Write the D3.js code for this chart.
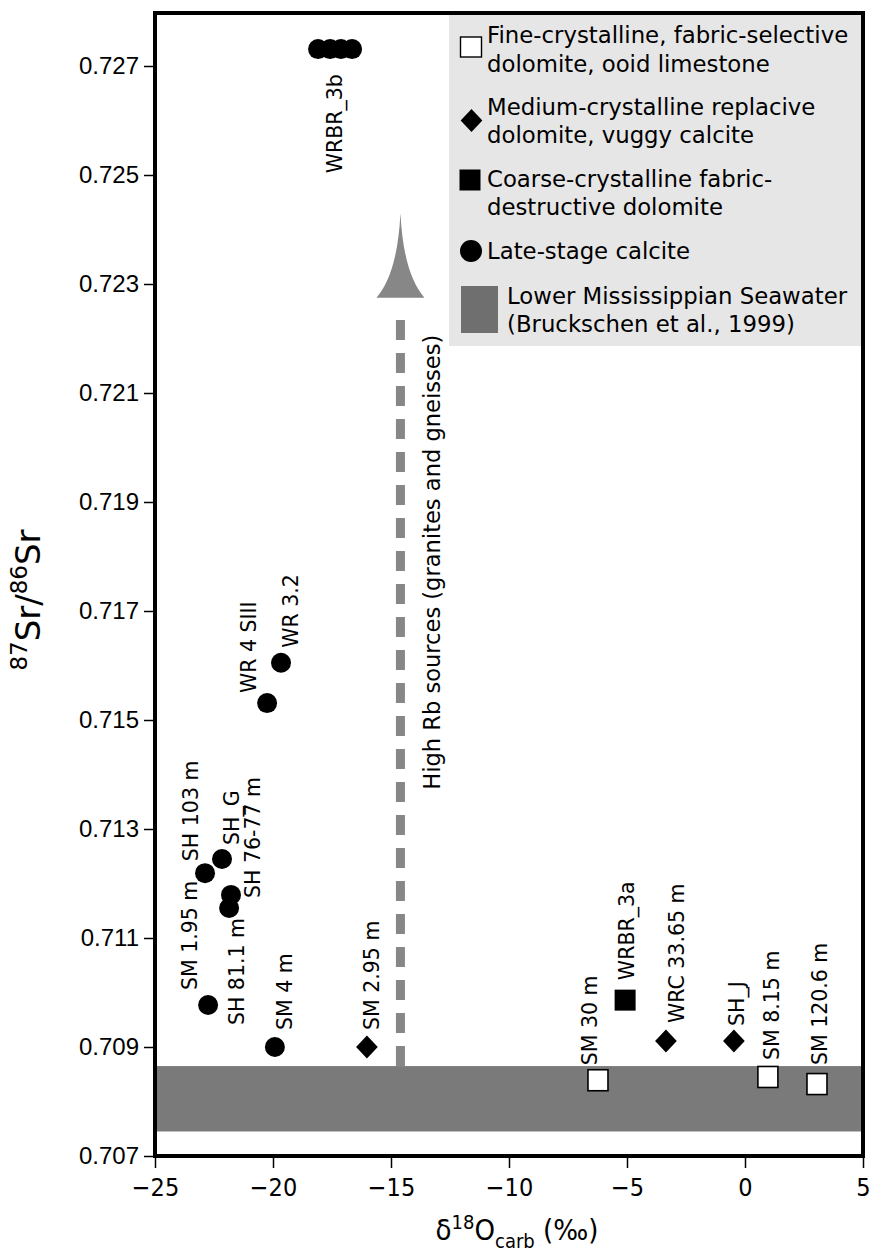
<!DOCTYPE html>
<html><head><meta charset="utf-8">
<script src="https://cdn.jsdelivr.net/npm/d3@7/dist/d3.min.js"></script>
<style>body{margin:0;background:#fff}svg{display:block}</style>
</head><body>
<script>
// ---------- data ----------
const xTicks = [-25, -20, -15, -10, -5, 0, 5];
const yTicks = [0.707, 0.709, 0.711, 0.713, 0.715, 0.717, 0.719, 0.721, 0.723, 0.725, 0.727];

const fineNames = ["SM 30 m", "SM 8.15 m", "SM 120.6 m"];
const fineD18O  = [-6.23, 0.97, 3.05];
const fineSr    = [0.70839, 0.70845, 0.70832];

const mediumNames = ["SM 2.95 m", "WRC 33.65 m", "SH_J"];
const mediumD18O  = [-16.02, -3.35, -0.47];
const mediumSr    = [0.70900, 0.70911, 0.70911];

const coarseNames = ["WRBR_3a"];
const coarseD18O  = [-5.08];
const coarseSr    = [0.70986];

const lateNames = ["WRBR_3b", "WRBR_3b", "WRBR_3b", "WRBR_3b", "WR 3.2", "WR 4 SIII", "SH_G", "SH 103 m", "SH 76-77 m", "SH 81.1 m", "SM 1.95 m", "SM 4 m"];
const lateD18O  = [-18.09, -17.58, -17.12, -16.65, -19.66, -20.25, -22.16, -22.88, -21.78, -21.86, -22.75, -19.92];
const lateSr    = [0.72731, 0.72731, 0.72731, 0.72731, 0.71605, 0.71531, 0.71245, 0.71219, 0.71179, 0.71155, 0.70977, 0.70900];

const seawaterBand = [0.70745, 0.70865];   // Lower Mississippian seawater range
const arrowD18O = -14.6;
const arrowTipSr = 0.7243, arrowBaseSr = 0.72275, arrowTextStartSr = 0.71372;

const legendLabels = [
  ["Fine-crystalline, fabric-selective", "dolomite, ooid limestone"],
  ["Medium-crystalline replacive", "dolomite, vuggy calcite"],
  ["Coarse-crystalline fabric-", "destructive dolomite"],
  ["Late-stage calcite"],
  ["Lower Mississippian Seawater", "(Bruckschen et al., 1999)"]
];
const arrowText = "High Rb sources (granites and gneisses)";

// ---------- layout ----------
const W = 877, H = 1254;
const svg = d3.select("body").append("svg").attr("width", W).attr("height", H);
const x = d3.scaleLinear().domain([-25, 5]).range([155, 863]);
const y = d3.scaleLinear().domain([0.707, 0.728]).range([1156, 11.5]);

const labelFont = "'DejaVu Sans', Verdana, sans-serif";
const legendFont = "'DejaVu Sans', Verdana, sans-serif";
const condFont = "'DejaVu Sans Condensed', 'Liberation Sans Narrow', sans-serif";

// seawater band
svg.append("rect")
  .attr("x", x(-25)).attr("width", x(5) - x(-25))
  .attr("y", y(seawaterBand[1])).attr("height", y(seawaterBand[0]) - y(seawaterBand[1]))
  .attr("fill", "#7a7a7a");

// legend background
svg.append("rect").attr("x", 449).attr("y", 13).attr("width", 863 - 449).attr("height", 346 - 13)
  .attr("fill", "#e6e6e6");

// arrow (dashed shaft + concave head)
const arrowColor = "#878787";
svg.append("line")
  .attr("x1", x(arrowD18O)).attr("x2", x(arrowD18O))
  .attr("y1", y(seawaterBand[1])).attr("y2", y(arrowBaseSr) + 16)
  .attr("stroke", arrowColor).attr("stroke-width", 9)
  .attr("stroke-dasharray", "20,13");
{
  const ax = x(arrowD18O), ty = y(arrowTipSr), by = y(arrowBaseSr), hw = 24;
  svg.append("path")
    .attr("d", `M${ax},${ty} Q${ax - 3},${by - 24} ${ax - hw},${by} L${ax + hw},${by} Q${ax + 3},${by - 24} ${ax},${ty} Z`)
    .attr("fill", arrowColor);
}
svg.append("text")
  .attr("transform", `translate(${x(arrowD18O) + 31},${y(arrowTextStartSr)}) rotate(-90)`)
  .attr("dy", "0.35em")
  .attr("font-family", condFont)
  .attr("font-size", 23)
  .attr("textLength", 455).attr("lengthAdjust", "spacingAndGlyphs")
  .text(arrowText);

// ---------- markers ----------
const zip = (n, a, b) => n.map((d, i) => ({ name: d, xv: a[i], yv: b[i] }));
const fine = zip(fineNames, fineD18O, fineSr);
const medium = zip(mediumNames, mediumD18O, mediumSr);
const coarse = zip(coarseNames, coarseD18O, coarseSr);
const late = zip(lateNames, lateD18O, lateSr);

svg.append("g").selectAll("circle").data(late).join("circle")
  .attr("cx", d => x(d.xv)).attr("cy", d => y(d.yv)).attr("r", 10).attr("fill", "#000");

const dSym = d3.symbol().type(d3.symbolDiamond2).size(300);
svg.append("g").selectAll("path").data(medium).join("path")
  .attr("transform", d => `translate(${x(d.xv)},${y(d.yv)}) scale(1,1.05)`)
  .attr("d", dSym).attr("fill", "#000");

svg.append("g").selectAll("rect").data(coarse).join("rect")
  .attr("x", d => x(d.xv) - 10.5).attr("y", d => y(d.yv) - 10.5)
  .attr("width", 21).attr("height", 21).attr("fill", "#000");

svg.append("g").selectAll("rect").data(fine).join("rect")
  .attr("x", d => x(d.xv) - 10).attr("y", d => y(d.yv) - 10.5)
  .attr("width", 20).attr("height", 21).attr("fill", "#fff")
  .attr("stroke", "#000").attr("stroke-width", 1.6);

// ---------- sample labels (rotated) ----------
// placement: [dx of text centre, dy of anchor point, anchor] relative to the marker
const placement = {
  "WRBR_3b": [0, 25, "end"],
  "WR 3.2": [10, -15, "start"],
  "WR 4 SIII": [-18, -10, "start"],
  "SH 103 m": [-14, -12, "start"],
  "SH_G": [10, -14, "start"],
  "SH 76-77 m": [22, 3, "start"],
  "SH 81.1 m": [8, 10, "end"],
  "SM 1.95 m": [-18, -15, "start"],
  "SM 4 m": [10, -17, "start"],
  "SM 2.95 m": [5, -17, "start"],
  "SM 30 m": [-8, -15, "start"],
  "WRBR_3a": [2, -20, "start"],
  "WRC 33.65 m": [11, -18, "start"],
  "SH_J": [3, -15, "start"],
  "SM 8.15 m": [4, -17, "start"],
  "SM 120.6 m": [3, -19, "start"]
};
const all = [...late, ...medium, ...coarse, ...fine];
const labelled = d3.groups(all, d => d.name).map(([name, pts]) => ({
  name, px: d3.mean(pts, p => x(p.xv)), py: d3.mean(pts, p => y(p.yv))
}));
svg.append("g").selectAll("text").data(labelled).join("text")
  .attr("transform", d => {
    const p = placement[d.name];
    return `translate(${d.px + p[0]},${d.py + p[1]}) rotate(-90)`;
  })
  .attr("dy", "0.35em")
  .attr("text-anchor", d => placement[d.name][2])
  .attr("font-family", labelFont).attr("font-size", 20.5)
  .text(d => d.name);

// ---------- legend ----------
const lg = svg.append("g");
lg.append("rect").attr("x", 460.5).attr("y", 37).attr("width", 21).attr("height", 20)
  .attr("fill", "#fff").attr("stroke", "#000").attr("stroke-width", 1.4);
lg.append("path").attr("transform", "translate(471.5,120.5) scale(1,1.05)").attr("d", dSym).attr("fill", "#000");
lg.append("rect").attr("x", 459.5).attr("y", 169.5).attr("width", 21).attr("height", 21).attr("fill", "#000");
lg.append("circle").attr("cx", 471).attr("cy", 251).attr("r", 11).attr("fill", "#000");
lg.append("rect").attr("x", 461).attr("y", 286).attr("width", 37).attr("height", 47).attr("fill", "#6f6f6f");

// each legend entry is one text element; wrapped lines are tspans
const legendPos = [[487, 43, 29], [487, 115, 28], [487, 187, 27.5], [487, 259, 0], [507, 304, 27.5]];
legendLabels.forEach((lines, i) => {
  const [lx, ly, lh] = legendPos[i];
  const t = lg.append("text").attr("x", lx).attr("y", ly)
    .attr("font-family", legendFont).attr("font-size", 22.8).attr("fill", "#000");
  lines.forEach((s, j) => {
    t.append("tspan").attr("x", lx).attr("dy", j === 0 ? 0 : lh).text(s);
  });
});

// ---------- frame & axes ----------
svg.append("rect").attr("x", 155).attr("y", 13).attr("width", 708).attr("height", 1143)
  .attr("fill", "none").attr("stroke", "#000").attr("stroke-width", 4);

const yAxis = svg.append("g").attr("transform", "translate(153,0)")
  .call(d3.axisLeft(y).tickValues(yTicks).tickSize(9).tickPadding(5).tickFormat(d3.format(".3f")));
yAxis.select(".domain").remove();
yAxis.selectAll(".tick line").attr("stroke", "#000").attr("stroke-width", 1.5);
yAxis.selectAll(".tick text").attr("font-family", "'Liberation Sans', Arial, sans-serif")
  .attr("font-size", 24).attr("fill", "#000");

const xAxis = svg.append("g").attr("transform", "translate(0,1158)")
  .call(d3.axisBottom(x).tickValues(xTicks).tickSize(10).tickPadding(10)
    .tickFormat(d => d < 0 ? "\u2212" + Math.abs(d) : String(d)));
xAxis.select(".domain").remove();
xAxis.selectAll(".tick line").attr("stroke", "#000").attr("stroke-width", 1.5);
xAxis.selectAll(".tick text").attr("font-family", condFont)
  .attr("font-size", 25).attr("fill", "#000");

// axis titles
const xt = svg.append("text").attr("x", 517).attr("y", 1240).attr("text-anchor", "middle")
  .attr("font-family", condFont)
  .attr("font-size", 29).attr("fill", "#000");
xt.append("tspan").text("\u03b4");
xt.append("tspan").attr("dy", -11).attr("font-size", 20).text("18");
xt.append("tspan").attr("dy", 11).text("O");
xt.append("tspan").attr("dy", 8).attr("font-size", 20).text("carb");
xt.append("tspan").attr("dy", -8).text(" (\u2030)");

const yt = svg.append("text").attr("transform", "translate(40,600) rotate(-90)")
  .attr("text-anchor", "middle")
  .attr("font-family", "'DejaVu Sans', Verdana, sans-serif")
  .attr("font-size", 34).attr("fill", "#000");
yt.append("tspan").attr("dy", -13).attr("font-size", 23).text("87");
yt.append("tspan").attr("dy", 13).text("Sr/");
yt.append("tspan").attr("dy", -13).attr("font-size", 23).text("86");
yt.append("tspan").attr("dy", 13).text("Sr");
</script>
</body></html>
